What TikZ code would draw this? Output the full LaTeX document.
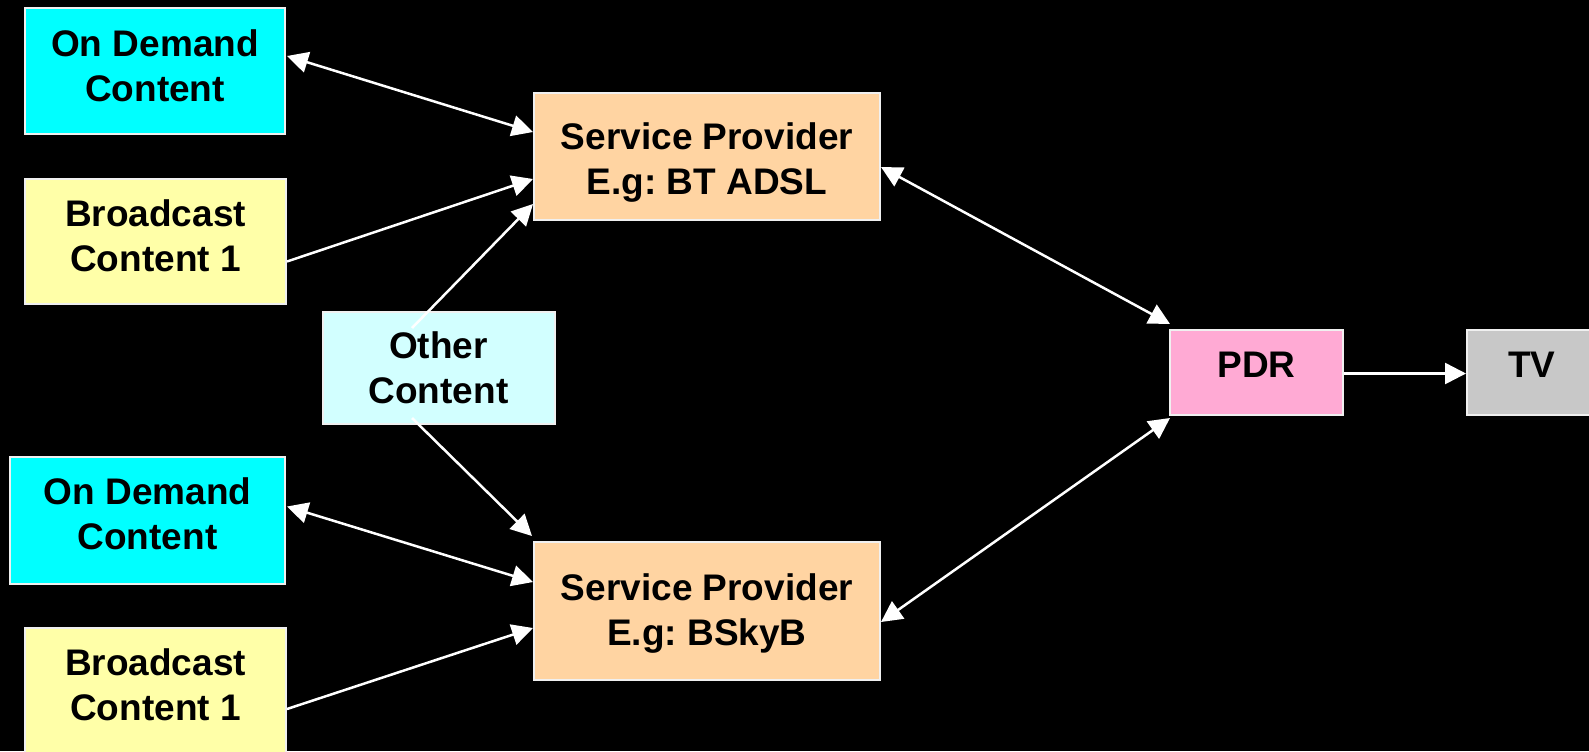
\documentclass[tikz,border=0pt]{standalone}
\usepackage{fontspec}
\setmainfont{Liberation Sans}
\frenchspacing
\usetikzlibrary{arrows.meta, calc}
\definecolor{odcyan}{RGB}{0,255,255}
\definecolor{bcyellow}{RGB}{255,255,168}
\definecolor{sppeach}{RGB}{255,212,162}
\definecolor{othcyan}{RGB}{210,255,255}
\definecolor{pdrpink}{RGB}{255,170,212}
\definecolor{tvgrey}{RGB}{200,200,200}

\begin{document}
\begin{tikzpicture}[x=0.5pt, y=-0.5pt,
  every node/.style={font=\fontsize{18.5}{22.5}\selectfont\bfseries, align=center, inner sep=0pt},
  box/.style={draw=white!94!black, line width=1pt},
  link/.style={draw=white, line width=1.25pt, -{Triangle[length=10.5pt, width=10.5pt]}},
  twoway/.style={link, {Triangle[length=10.5pt, width=10.5pt]}-{Triangle[length=10.5pt, width=10.5pt]}}]
  \useasboundingbox (0,0) rectangle (1589,751);
  \fill[black] (0,0) rectangle (1589,751);
  % sources
  \node[box, fill=odcyan, minimum width=130pt, minimum height=63pt,
    label={[yshift=2.5pt]center:{On Demand\\Content}}] (od1) at (155,71) {};
  \node[box, fill=bcyellow, minimum width=130.5pt, minimum height=62.5pt,
    label={[yshift=3pt]center:{Broadcast\\Content 1}}] (bc1) at (155.5,241.5) {};
  \node[box, fill=othcyan, minimum width=116pt, minimum height=56pt,
    label={center:{Other\\Content}}] (oth) at (438.5,368) {};
  \node[box, fill=odcyan, minimum width=137.5pt, minimum height=63.5pt,
    label={[yshift=3.5pt]center:{On Demand\\Content}}] (od2) at (147.5,520.5) {};
  \node[box, fill=bcyellow, minimum width=130.5pt, minimum height=62.5pt,
    label={[yshift=3pt]center:{Broadcast\\Content 1}}] (bc2) at (155.5,690.5) {};
  % providers
  \node[box, fill=sppeach, minimum width=173pt, minimum height=63.5pt,
    label={[yshift=-3pt]center:{Service Provider\\E.g: BT ADSL}}] (sp1) at (707,156.5) {};
  \node[box, fill=sppeach, minimum width=173pt, minimum height=69pt,
    label={[yshift=-1pt]center:{Service Provider\\E.g: BSkyB}}] (sp2) at (707,611) {};
  % receiver
  \node[box, fill=pdrpink, minimum width=86.5pt, minimum height=42.5pt,
    label={[yshift=3.75pt]center:PDR}] (pdr) at (1256.5,372.5) {};
  \node[box, fill=tvgrey, minimum width=65pt, minimum height=42.5pt,
    label={[yshift=3.75pt]center:TV}] (tv) at (1532,372.5) {};
  % connectors
  \draw[twoway] ($(od1.east)+(1,-15)$) -- ($(sp1.west)+(0,-24.5)$);
  \draw[link] ($(bc1.east)+(0,20)$) -- ($(sp1.west)+(0,22.5)$);
  \draw[link] ($(oth.center)+(-26.5,-40)$) -- ($(sp1.west)+(0,47.5)$);
  \draw[link] ($(oth.center)+(-26.5,50)$) -- ($(sp2.north west)+(-1,-5)$);
  \draw[twoway] ($(od2.east)+(1,-14)$) -- ($(sp2.west)+(0,-29)$);
  \draw[link] ($(bc2.east)+(0,18.5)$) -- ($(sp2.west)+(0,17)$);
  \draw[twoway] ($(sp1.east)+(0,10.5)$) -- ($(pdr.north west)+(1,-5)$);
  \draw[twoway] ($(sp2.east)+(0,11)$) -- ($(pdr.south west)+(1,2)$);
  \draw[link] ($(pdr.east)+(0,1)$) -- ($(tv.west)+(0,1)$);
\end{tikzpicture}
\end{document}
